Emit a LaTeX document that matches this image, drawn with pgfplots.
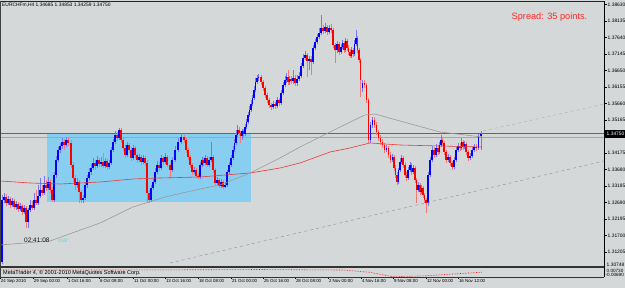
\documentclass[border=0pt]{standalone}
\usepackage{pgfplots}
\usepackage{pgfplotstable}
\pgfplotsset{compat=1.18}
\usepackage{fontspec}
\setmainfont{Liberation Sans}
\definecolor{bg}{RGB}{212,216,216}
\definecolor{rectc}{RGB}{135,206,240}
\definecolor{upb}{RGB}{0,0,255}
\definecolor{dnb}{RGB}{255,0,0}
\definecolor{upw}{RGB}{120,120,245}
\definecolor{dnw}{RGB}{245,120,120}
\definecolor{mared}{RGB}{235,60,60}
\definecolor{magray}{RGB}{165,150,150}
\definecolor{spr}{RGB}{255,40,40}
\definecolor{barc}{RGB}{100,220,240}
\definecolor{dashg}{RGB}{150,150,160}
\definecolor{dashp}{RGB}{200,170,175}

\pgfplotstableread{
x o h l c
2 1.3091 1.3292 1.3085 1.3277
4 1.3277 1.3298 1.3268 1.3286
8 1.3268 1.3289 1.3262 1.3280
12 1.3262 1.3283 1.3256 1.3274
16 1.3256 1.3274 1.3247 1.3265
20 1.3250 1.3268 1.3244 1.3259
24 1.3241 1.3262 1.3235 1.3253
28 1.3211 1.3253 1.3193 1.3247
30 1.3247 1.3277 1.3241 1.3262
34 1.3253 1.3298 1.3247 1.3277
38 1.3268 1.3322 1.3262 1.3289
40 1.3289 1.3343 1.3283 1.3307
44 1.3298 1.3349 1.3292 1.3322
48 1.3313 1.3346 1.3307 1.3331
54 1.3277 1.3361 1.3271 1.3352
56 1.3352 1.3409 1.3343 1.3397
58 1.3397 1.3436 1.3391 1.3427
60 1.3427 1.3448 1.3418 1.3439
62 1.3439 1.3463 1.3430 1.3451
66 1.3442 1.3466 1.3436 1.3457
77 1.3322 1.3343 1.3313 1.3331
83 1.3277 1.3292 1.3268 1.3283
85 1.3283 1.3331 1.3277 1.3322
87 1.3322 1.3352 1.3313 1.3343
89 1.3343 1.3373 1.3337 1.3361
91 1.3361 1.3385 1.3352 1.3373
93 1.3373 1.3403 1.3367 1.3388
97 1.3379 1.3409 1.3373 1.3397
101 1.3385 1.3406 1.3376 1.3391
105 1.3379 1.3403 1.3373 1.3394
109 1.3376 1.3397 1.3370 1.3388
111 1.3388 1.3436 1.3382 1.3427
113 1.3427 1.3460 1.3421 1.3451
115 1.3451 1.3484 1.3445 1.3472
119 1.3463 1.3493 1.3457 1.3487
127 1.3412 1.3451 1.3406 1.3442
133 1.3403 1.3442 1.3397 1.3433
139 1.3397 1.3415 1.3391 1.3406
143 1.3391 1.3412 1.3385 1.3403
151 1.3277 1.3322 1.3271 1.3313
153 1.3313 1.3340 1.3307 1.3331
155 1.3331 1.3373 1.3325 1.3361
157 1.3361 1.3394 1.3355 1.3382
161 1.3373 1.3412 1.3367 1.3403
165 1.3391 1.3418 1.3385 1.3406
172 1.3367 1.3406 1.3361 1.3397
175 1.3397 1.3439 1.3391 1.3427
178 1.3427 1.3463 1.3421 1.3451
181 1.3451 1.3478 1.3445 1.3466
194 1.3361 1.3376 1.3355 1.3367
200 1.3346 1.3391 1.3340 1.3382
202 1.3382 1.3406 1.3376 1.3397
205 1.3388 1.3412 1.3382 1.3403
209 1.3382 1.3406 1.3376 1.3397
211 1.3397 1.3451 1.3391 1.3406
217 1.3328 1.3346 1.3322 1.3337
221 1.3319 1.3340 1.3313 1.3331
225 1.3316 1.3331 1.3313 1.3322
227 1.3322 1.3367 1.3316 1.3361
229 1.3361 1.3391 1.3355 1.3382
231 1.3382 1.3412 1.3376 1.3403
233 1.3403 1.3439 1.3397 1.3427
234.5 1.3427 1.3460 1.3421 1.3448
236 1.3448 1.3487 1.3442 1.3472
237.5 1.3472 1.3502 1.3466 1.3487
242 1.3469 1.3490 1.3457 1.3484
245 1.3475 1.3505 1.3469 1.3496
246.5 1.3496 1.3520 1.3490 1.3511
248 1.3511 1.3541 1.3505 1.3532
249.5 1.3532 1.3559 1.3526 1.3547
251 1.3547 1.3577 1.3541 1.3565
252.5 1.3565 1.3592 1.3559 1.3583
254 1.3583 1.3619 1.3577 1.3607
255.5 1.3607 1.3643 1.3601 1.3631
257 1.3631 1.3652 1.3625 1.3643
258.5 1.3643 1.3655 1.3634 1.3646
273 1.3556 1.3574 1.3550 1.3565
277 1.3559 1.3586 1.3553 1.3577
281 1.3568 1.3607 1.3562 1.3598
283 1.3598 1.3631 1.3592 1.3622
285 1.3622 1.3649 1.3616 1.3637
286.5 1.3637 1.3658 1.3628 1.3646
289.5 1.3631 1.3649 1.3622 1.3640
293 1.3634 1.3667 1.3625 1.3643
297 1.3628 1.3652 1.3619 1.3640
299 1.3640 1.3661 1.3634 1.3649
301 1.3649 1.3688 1.3643 1.3679
303 1.3679 1.3715 1.3673 1.3703
305 1.3703 1.3724 1.3697 1.3712
309 1.3694 1.3709 1.3667 1.3700
313 1.3691 1.3742 1.3685 1.3733
315 1.3733 1.3760 1.3727 1.3751
317 1.3751 1.3775 1.3745 1.3766
319 1.3766 1.3793 1.3760 1.3778
321 1.3778 1.3832 1.3772 1.3793
325 1.3784 1.3808 1.3778 1.3796
329 1.3781 1.3802 1.3775 1.3793
337 1.3727 1.3754 1.3718 1.3745
341 1.3721 1.3745 1.3715 1.3736
342.5 1.3736 1.3757 1.3730 1.3748
345.5 1.3727 1.3763 1.3721 1.3754
351.5 1.3709 1.3736 1.3703 1.3727
354.5 1.3715 1.3757 1.3709 1.3745
356 1.3745 1.3787 1.3739 1.3763
362.5 1.3613 1.3637 1.3601 1.3628
370.5 1.3457 1.3511 1.3448 1.3502
372.5 1.3502 1.3526 1.3493 1.3517
386.5 1.3427 1.3442 1.3421 1.3433
392.5 1.3397 1.3415 1.3391 1.3406
398.5 1.3331 1.3373 1.3325 1.3367
400 1.3367 1.3403 1.3361 1.3391
401.5 1.3391 1.3412 1.3385 1.3403
408 1.3343 1.3376 1.3337 1.3367
410 1.3367 1.3391 1.3361 1.3382
413 1.3361 1.3382 1.3355 1.3373
418 1.3307 1.3331 1.3301 1.3322
421.5 1.3301 1.3322 1.3295 1.3313
428 1.3268 1.3361 1.3259 1.3352
430 1.3352 1.3406 1.3346 1.3397
432 1.3397 1.3439 1.3391 1.3427
436 1.3412 1.3445 1.3406 1.3433
439.5 1.3421 1.3451 1.3415 1.3442
441 1.3442 1.3472 1.3436 1.3457
448 1.3397 1.3415 1.3391 1.3406
454 1.3376 1.3406 1.3370 1.3397
456 1.3397 1.3436 1.3391 1.3427
458 1.3427 1.3448 1.3421 1.3439
461.5 1.3433 1.3463 1.3427 1.3451
464.5 1.3436 1.3454 1.3430 1.3445
470 1.3403 1.3418 1.3397 1.3409
472 1.3409 1.3436 1.3403 1.3427
474 1.3427 1.3445 1.3421 1.3436
478.5 1.3433 1.3475 1.3427 1.3469
481 1.34685 1.34853 1.34259 1.34750
}\upbars

\pgfplotstableread{
x o h l c
6 1.3286 1.3295 1.3259 1.3268
10 1.3280 1.3286 1.3253 1.3262
14 1.3274 1.3280 1.3250 1.3256
18 1.3265 1.3271 1.3241 1.3250
22 1.3259 1.3265 1.3232 1.3241
26 1.3253 1.3259 1.3193 1.3211
32 1.3262 1.3274 1.3247 1.3253
36 1.3277 1.3307 1.3262 1.3268
42 1.3307 1.3322 1.3289 1.3298
46 1.3322 1.3337 1.3304 1.3313
50 1.3331 1.3337 1.3298 1.3307
52 1.3307 1.3316 1.3271 1.3277
64 1.3451 1.3460 1.3427 1.3442
68 1.3457 1.3466 1.3439 1.3448
71 1.3448 1.3457 1.3373 1.3382
73 1.3382 1.3391 1.3331 1.3343
75 1.3343 1.3352 1.3307 1.3322
79 1.3331 1.3337 1.3268 1.3301
81 1.3301 1.3307 1.3268 1.3277
95 1.3388 1.3397 1.3367 1.3379
99 1.3397 1.3403 1.3376 1.3385
103 1.3391 1.3418 1.3373 1.3379
107 1.3394 1.3400 1.3367 1.3376
117 1.3472 1.3481 1.3454 1.3463
121 1.3487 1.3493 1.3448 1.3457
123 1.3457 1.3466 1.3424 1.3433
125 1.3433 1.3442 1.3403 1.3412
129 1.3442 1.3448 1.3418 1.3427
131 1.3427 1.3436 1.3394 1.3403
135 1.3433 1.3439 1.3403 1.3412
137 1.3412 1.3418 1.3388 1.3397
141 1.3406 1.3412 1.3382 1.3391
145 1.3403 1.3409 1.3379 1.3388
147 1.3388 1.3397 1.3268 1.3298
149 1.3298 1.3307 1.3268 1.3277
159 1.3382 1.3391 1.3364 1.3373
163 1.3403 1.3409 1.3382 1.3391
167 1.3406 1.3412 1.3376 1.3382
170 1.3382 1.3388 1.3343 1.3367
184 1.3466 1.3472 1.3448 1.3457
186 1.3457 1.3463 1.3418 1.3427
188 1.3427 1.3433 1.3397 1.3406
190 1.3406 1.3412 1.3373 1.3382
192 1.3382 1.3388 1.3352 1.3361
196 1.3367 1.3373 1.3343 1.3349
198 1.3349 1.3358 1.3340 1.3346
203 1.3397 1.3403 1.3379 1.3388
207 1.3403 1.3409 1.3376 1.3382
213 1.3406 1.3412 1.3358 1.3367
215 1.3367 1.3373 1.3319 1.3328
219 1.3337 1.3343 1.3313 1.3319
223 1.3331 1.3337 1.3310 1.3316
239 1.3487 1.3496 1.3469 1.3478
240.5 1.3478 1.3484 1.3448 1.3469
243.5 1.3484 1.3490 1.3466 1.3475
261 1.3646 1.3652 1.3622 1.3631
263 1.3631 1.3637 1.3604 1.3613
265 1.3613 1.3619 1.3583 1.3592
267 1.3592 1.3598 1.3568 1.3577
269 1.3577 1.3583 1.3553 1.3562
271 1.3562 1.3568 1.3547 1.3556
275 1.3565 1.3571 1.3550 1.3559
279 1.3577 1.3583 1.3559 1.3568
288 1.3646 1.3667 1.3622 1.3631
291 1.3640 1.3649 1.3625 1.3634
295 1.3643 1.3652 1.3619 1.3628
307 1.3712 1.3718 1.3646 1.3694
311 1.3700 1.3709 1.3652 1.3691
323 1.3793 1.3802 1.3775 1.3784
327 1.3796 1.3802 1.3772 1.3781
331 1.3793 1.3805 1.3778 1.3787
333 1.3787 1.3793 1.3733 1.3742
335 1.3742 1.3748 1.3688 1.3727
339 1.3745 1.3751 1.3712 1.3721
344 1.3748 1.3754 1.3718 1.3727
347 1.3754 1.3760 1.3724 1.3733
348.5 1.3733 1.3742 1.3712 1.3721
350 1.3721 1.3730 1.3703 1.3709
353 1.3727 1.3733 1.3706 1.3715
357.5 1.3763 1.3769 1.3718 1.3727
359 1.3727 1.3733 1.3688 1.3697
360.5 1.3697 1.3703 1.3586 1.3637
364.5 1.3628 1.3637 1.3613 1.3622
366.5 1.3622 1.3628 1.3568 1.3577
368.5 1.3577 1.3583 1.3448 1.3457
374.5 1.3517 1.3526 1.3493 1.3502
376.5 1.3502 1.3511 1.3472 1.3481
378.5 1.3481 1.3487 1.3454 1.3463
380.5 1.3463 1.3472 1.3442 1.3451
382.5 1.3451 1.3460 1.3433 1.3442
384.5 1.3442 1.3448 1.3418 1.3427
388.5 1.3433 1.3439 1.3403 1.3412
390.5 1.3412 1.3421 1.3388 1.3397
394 1.3406 1.3412 1.3364 1.3373
395.5 1.3373 1.3382 1.3343 1.3352
397 1.3352 1.3361 1.3322 1.3331
403 1.3403 1.3409 1.3373 1.3382
405 1.3382 1.3391 1.3343 1.3352
406.5 1.3352 1.3361 1.3334 1.3343
411.5 1.3382 1.3388 1.3352 1.3361
415 1.3373 1.3379 1.3328 1.3337
416.5 1.3337 1.3343 1.3268 1.3307
420 1.3322 1.3328 1.3292 1.3301
423 1.3313 1.3319 1.3283 1.3292
424.5 1.3292 1.3298 1.3268 1.3277
426 1.3277 1.3283 1.3238 1.3268
434 1.3427 1.3436 1.3403 1.3412
438 1.3433 1.3442 1.3412 1.3421
442.5 1.3457 1.3466 1.3439 1.3448
444 1.3448 1.3454 1.3412 1.3421
446 1.3421 1.3427 1.3388 1.3397
450 1.3406 1.3412 1.3379 1.3388
452 1.3388 1.3394 1.3367 1.3376
460 1.3439 1.3448 1.3424 1.3433
463 1.3451 1.3457 1.3427 1.3436
466 1.3445 1.3451 1.3412 1.3421
468 1.3421 1.3427 1.3394 1.3403
476 1.3436 1.3445 1.3424 1.3433
}\dnbars

\begin{document}
\begin{tikzpicture}
\path[use as bounding box, fill=bg] (0pt,0pt) rectangle (625pt,-288pt);

\begin{axis}[
  at={(0pt,-2pt)}, anchor=north west,
  scale only axis, width=604pt, height=264pt,
  xmin=0, xmax=604, ymin=1.3079, ymax=1.3871,
  axis line style={draw=none},
  xtick=\empty,
  ytick={1.38630,1.38135,1.37640,1.37145,1.36650,1.36155,1.35660,1.35165,1.34175,1.33680,1.33185,1.32690,1.32195,1.31700,1.31205},
  yticklabels={1.38630,1.38135,1.37640,1.37145,1.36650,1.36155,1.35660,1.35165,1.34175,1.33680,1.33185,1.32690,1.32195,1.31700,1.31205},
  ytick pos=right, yticklabel pos=right,
  tick align=outside, major tick length=2.5pt,
  tick style={black, line width=0.4pt},
  yticklabel style={font=\fontsize{4.9}{5}\selectfont, inner sep=0pt, xshift=1pt},
  clip=true,
]
\fill[rectc] (axis cs:46.5,1.3478) rectangle (axis cs:250.5,1.32695);
\addplot[gray!80!black, line width=0.5pt] coordinates {(0,1.3478) (604,1.3478)};
\addplot[gray!70, line width=0.5pt] coordinates {(0,1.3466) (604,1.3466)};
% candles: wicks
\addplot[draw=none, mark=none, forget plot, error bars/.cd, y dir=plus, y explicit, error mark=none,
  error bar style={draw=upw, line width=0.55pt}]
  table[x=x, y=l, y error plus expr=\thisrow{h}-\thisrow{l}] {\upbars};
\addplot[draw=none, mark=none, forget plot, error bars/.cd, y dir=plus, y explicit, error mark=none,
  error bar style={draw=dnw, line width=0.55pt}]
  table[x=x, y=l, y error plus expr=\thisrow{h}-\thisrow{l}] {\dnbars};
% candles: bodies
\addplot[draw=none, mark=none, forget plot, error bars/.cd, y dir=plus, y explicit, error mark=none,
  error bar style={draw=upb, line width=1.5pt}]
  table[x=x, y=o, y error plus expr=\thisrow{c}-\thisrow{o}] {\upbars};
\addplot[draw=none, mark=none, forget plot, error bars/.cd, y dir=plus, y explicit, error mark=none,
  error bar style={draw=dnb, line width=1.5pt}]
  table[x=x, y=c, y error plus expr=\thisrow{o}-\thisrow{c}] {\dnbars};
% moving averages
\addplot[mared, line width=0.6pt] coordinates {(0,1.3334) (30,1.3328) (60,1.3325) (100,1.3331) (133,1.3340) (160,1.3343) (200,1.3346) (250,1.3358) (280,1.3373) (300,1.3388) (330,1.3421) (350,1.3433) (370,1.3448) (400,1.3442) (440,1.3439) (482,1.3436)};
\addplot[magray, line width=0.6pt] coordinates {(0,1.3142) (50,1.3154) (100,1.3208) (133,1.3256) (165,1.3286) (200,1.3310) (220,1.3322) (250,1.3358) (280,1.3403) (300,1.3436) (330,1.3481) (340,1.3496) (365,1.3532) (375,1.3535) (400,1.3514) (440,1.3481) (482,1.3466)};
% trend lines
\addplot[dashg, dashed, line width=0.5pt] coordinates {(170,1.3088) (604,1.3394)};
\addplot[dashp, dashed, line width=0.5pt] coordinates {(483,1.3484) (604,1.3565)};
\end{axis}

\begin{axis}[
  at={(0pt,-268pt)}, anchor=north west,
  scale only axis, width=604pt, height=9pt,
  xmin=0, xmax=604, ymin=-0.0070, ymax=0.0073,
  axis line style={draw=none}, ytick=\empty,
  xtick={0,33,67,99,133,165,198,231,263,295,328,361,393,426,458},
  xticklabels={24 Sep 2010,29 Sep 00:00,1 Oct 16:00,6 Oct 08:00,11 Oct 00:00,13 Oct 16:00,18 Oct 08:00,21 Oct 00:00,25 Oct 16:00,28 Oct 08:00,2 Nov 00:00,4 Nov 16:00,9 Nov 08:00,12 Nov 00:00,16 Nov 12:00},
  xtick pos=bottom, tick align=outside, major tick length=2pt,
  tick style={black, line width=0.4pt},
  xticklabel style={font=\fontsize{4.4}{5}\selectfont, anchor=north west, inner sep=0pt, xshift=0.8pt, yshift=-0.5pt},
  clip=true,
]
\addplot[red, densely dotted, line width=0.6pt] coordinates {(0,0.0041) (100,0.0041) (200,0.0045) (260,0.0049) (300,0.0045) (343,0.0041) (370,0.0005) (393,-0.0066) (427,-0.0050) (455,-0.0020) (482,0.0006)};
\end{axis}

% frame
\draw[line width=0.8pt, gray!30!black] (0pt,-1.5pt) -- (604pt,-1.5pt);
\draw[line width=0.6pt, gray!50!black] (0.6pt,-1.5pt) -- (0.6pt,-277.5pt);
\draw[line width=1.6pt, gray!40!black] (0pt,-267pt) -- (604pt,-267pt);
\draw[line width=0.8pt, gray!40!black] (0pt,-277.5pt) -- (604pt,-277.5pt);
\draw[line width=0.8pt, black] (604.3pt,-1.5pt) -- (604.3pt,-277.5pt);

% price box and extra labels
\fill[black] (604.8pt,-130pt) rectangle (625pt,-138pt);
\node[anchor=west, inner sep=0pt, text=white, font=\fontsize{4.9}{5}\selectfont] at (606.5pt,-134pt) {1.34750};
\node[anchor=west, inner sep=0pt, font=\fontsize{4.9}{5}\selectfont] at (606.5pt,-265pt) {1.30748};
\node[anchor=west, inner sep=0pt, font=\fontsize{4.6}{5}\selectfont] at (606.5pt,-270.5pt) {0.00730};
\node[anchor=west, inner sep=0pt, font=\fontsize{4.6}{5}\selectfont] at (605.5pt,-275pt) {-0.00690};

% texts
\node[anchor=west, inner sep=0pt, font=\fontsize{4.9}{5}\selectfont] at (2pt,-5.5pt) {EURCHFm,H4 1.34685 1.34853 1.34259 1.34750};
\node[anchor=west, inner sep=0pt, text=spr, font=\fontsize{9.2}{10}\selectfont] at (511.5pt,-17pt) {Spread: 35 points.};
\node[anchor=west, inner sep=0pt, text=gray!20!black, font=\fontsize{6.5}{7}\selectfont] at (24pt,-240pt) {02:41:08};
\node[anchor=west, inner sep=0pt, text=barc, font=\fontsize{6.5}{7}\selectfont] at (58pt,-240pt) {Bar:};
\node[anchor=west, inner sep=0pt, font=\fontsize{5.5}{6}\selectfont] at (3pt,-273.5pt) {MetaTrader 4, © 2001-2010 MetaQuotes Software Corp.};
\end{tikzpicture}
\end{document}
